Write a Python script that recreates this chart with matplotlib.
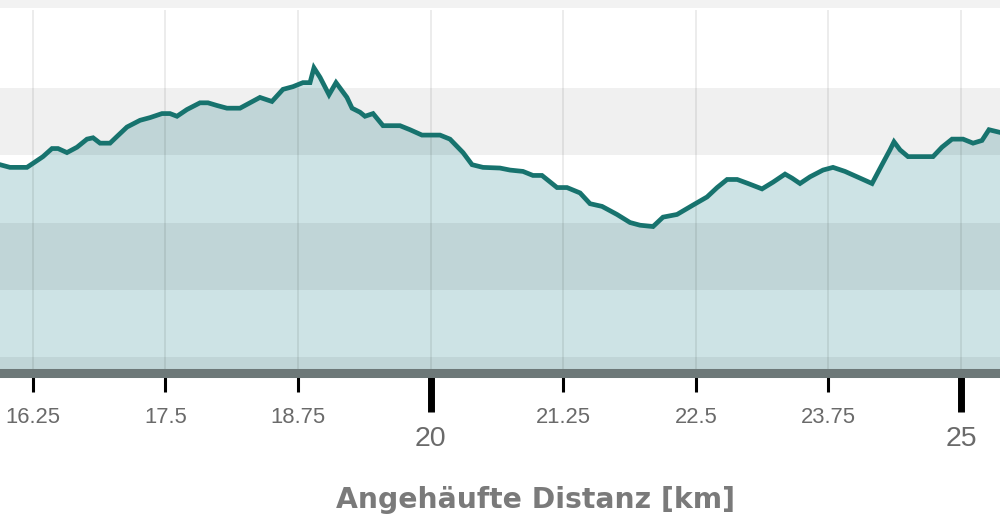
import matplotlib
matplotlib.use("Agg")
import matplotlib.pyplot as plt
from matplotlib.ticker import MultipleLocator, FuncFormatter
from matplotlib.patches import Rectangle

# Distance [km] and elevation [m] of the profile
distance_km = [15.942, 16.036, 16.196, 16.253, 16.347, 16.432, 16.489, 16.573, 16.668, 16.762,
               16.819, 16.885, 16.979, 17.045, 17.139, 17.262, 17.356, 17.469, 17.544, 17.610,
               17.704, 17.827, 17.902, 17.987, 18.081, 18.204, 18.298, 18.392, 18.505, 18.609,
               18.703, 18.797, 18.864, 18.901, 18.958, 19.043, 19.109, 19.212, 19.260, 19.335,
               19.382, 19.458, 19.552, 19.712, 19.806, 19.919, 20.089, 20.183, 20.306, 20.391,
               20.494, 20.654, 20.749, 20.871, 20.965, 21.050, 21.192, 21.286, 21.409, 21.503,
               21.616, 21.757, 21.880, 21.974, 22.097, 22.191, 22.323, 22.474, 22.606, 22.701,
               22.795, 22.890, 22.993, 23.124, 23.228, 23.341, 23.407, 23.482, 23.577, 23.699,
               23.793, 23.906, 24.048, 24.161, 24.255, 24.330, 24.368, 24.425, 24.500, 24.736,
               24.820, 24.915, 25.019, 25.113, 25.197, 25.263, 25.367]
elevation_m = [443, 441, 441, 444, 449, 455, 455, 452, 456, 462,
               463, 459, 459, 464, 471, 476, 478, 481, 481, 479,
               484, 489, 489, 487, 485, 485, 489, 493, 490, 499,
               501, 504, 504, 515, 508, 495, 504, 493, 485, 482,
               479, 481, 472, 472, 469, 465, 465, 462, 452, 443,
               441, 440.5, 439, 438, 435, 435, 426, 426, 422, 414,
               412, 406, 400, 398, 397, 404, 406, 413, 419, 426,
               432, 432, 429, 425, 430, 436, 433, 429, 434, 439,
               441, 438, 433, 429, 443, 454, 460, 454, 449, 449,
               456, 462, 462, 459, 461, 469, 467]

band_edges = [(250, 300), (350, 400), (450, 500)]
x_range = (15.942, 25.367)
y_range = (288.5, 558.0)
x_label = "Angehäufte Distanz [km]"

plt.rcParams['font.family'] = ['Liberation Sans', 'DejaVu Sans']

fig = plt.figure(figsize=(10, 5.2), dpi=100)
fig.patch.set_facecolor('white')
fig.patches.append(Rectangle((0, 1 - 8 / 520), 1, 8 / 520, transform=fig.transFigure,
                             facecolor='#f2f2f2', edgecolor='none', zorder=0))

ax = fig.add_axes([0, (520 - 372.5) / 520, 1, (372.5 - 10) / 520])
ax.set_facecolor('white')
ax.set_xlim(*x_range)
ax.set_ylim(*y_range)

ax.fill_between(distance_km, elevation_m, y_range[0], color='#cde3e5', zorder=1, lw=0)
for lo, hi in band_edges:
    ax.axhspan(lo, hi, color='black', alpha=0.06, lw=0, zorder=2)
ax.plot(distance_km, elevation_m, color='#17736e', lw=3.4, zorder=4,
        solid_joinstyle='miter')

ax.xaxis.set_major_locator(MultipleLocator(5))
ax.xaxis.set_minor_locator(MultipleLocator(1.25))
fmt = FuncFormatter(lambda v, p: f"{v:g}")
ax.xaxis.set_major_formatter(fmt)
ax.xaxis.set_minor_formatter(fmt)
ax.grid(True, axis='x', which='both', color='black', alpha=0.09, lw=1.2, zorder=1.5)
ax.set_axisbelow(False)
ax.yaxis.set_visible(False)

ax.tick_params(axis='x', which='major', direction='out', length=28.4, width=5,
               color='black', pad=10, labelsize=20.5, labelcolor='#6a6a6a')
ax.tick_params(axis='x', which='minor', direction='out', length=14, width=2.2,
               color='black', pad=11, labelsize=15.8, labelcolor='#6a6a6a')

for s in ['top', 'left', 'right']:
    ax.spines[s].set_visible(False)
ax.spines['bottom'].set_color('#6d7878')
ax.spines['bottom'].set_linewidth(6.5)
ax.spines['bottom'].set_zorder(5)

ax.set_xlabel(x_label, fontsize=20.3, fontweight='bold', color='#7a7a7a',
              family=['DejaVu Sans'])
ax.xaxis.set_label_coords(0.535, -0.3738)
ax.xaxis.label.set_va('baseline')

fig.savefig('out.png', dpi=100)
